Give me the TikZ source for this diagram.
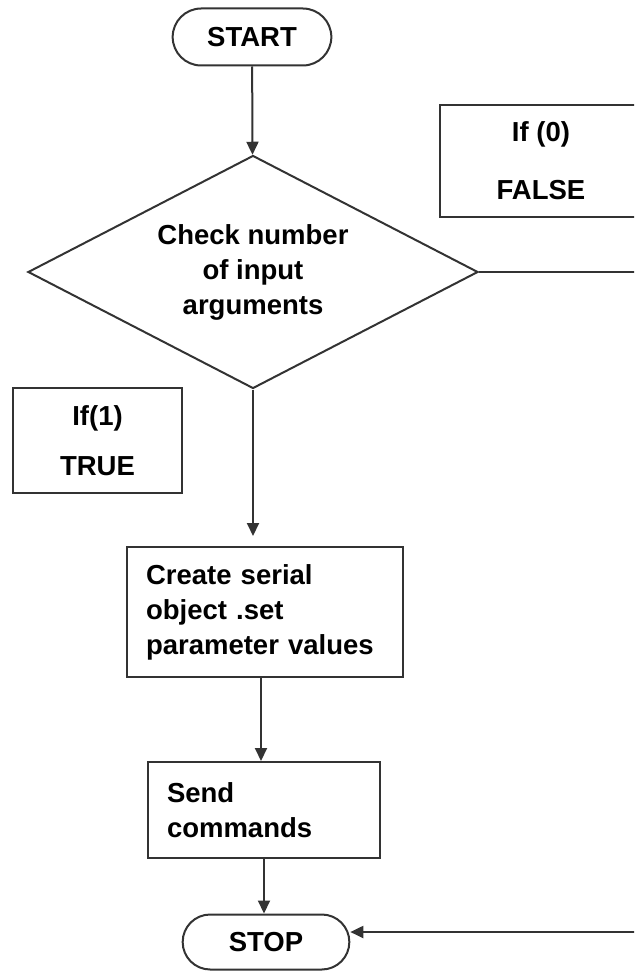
\documentclass[tikz,border=0pt]{standalone}
\usepackage{fontspec}
\setmainfont{Liberation Sans}
\usetikzlibrary{shapes.geometric,shapes.misc,arrows.meta}
\definecolor{linecol}{gray}{0.2}

\begin{document}
\begin{tikzpicture}[x=0.5pt, y=-0.5pt, line width=1pt,
 every node/.style={font=\fontsize{13.75pt}{17.5pt}\selectfont\bfseries},
 terminal/.style={rounded rectangle, draw=linecol, minimum width=86pt, minimum height=28.5pt},
 decision/.style={diamond, draw=linecol, aspect=1.93, minimum width=225pt, minimum height=116.5pt, inner sep=0pt, align=center},
 process/.style={rectangle, draw=linecol, inner xsep=9.5pt, align=left},
 note/.style={rectangle, draw=linecol, align=center},
 flow/.style={color=linecol, -{Triangle[length=6.5pt,width=6pt]}}, ]

                \useasboundingbox (0,0) rectangle (634,972);
                \clip (0,0) rectangle (634,972);

                \node[terminal] (start) at (252,37) {START};
                \node[decision] (check) at (253,272) {Check number\\of input\\arguments};
                \node[note, minimum width=101pt, minimum height=56pt] (iffalse) at (541,161) {If (0)\\[11.5pt]FALSE};
                \node[note, minimum width=84.5pt, minimum height=52.5pt] (iftrue) at (97.5,440.5) {If(1)\\[7.5pt]TRUE};
                \node[process, text width=119pt, minimum height=65pt] (create) at (265,612) {Create serial\\object .set\\parameter values};
                \node[process, text width=97pt, minimum height=48pt] (send) at (264,810) {Send\\commands};
                \node[terminal, minimum width=90pt, minimum height=27.5pt] (stop) at (266,942) {STOP};
                \coordinate (rside) at (660,600);

                \path [flow] (start) edge (check)
                             (check.south) edge [shorten >=5pt] (check.south |- create.north)
                             ([xshift=-2pt]create.south) edge ([xshift=-2pt]create.south |- send.north)
                             (send.south) edge (send.south |- stop.north);
                % false branch leaves the page on the right
                \draw [flow] (check.east) -| (rside) |- ([yshift=5pt]stop.east);
\end{tikzpicture}
\end{document}
